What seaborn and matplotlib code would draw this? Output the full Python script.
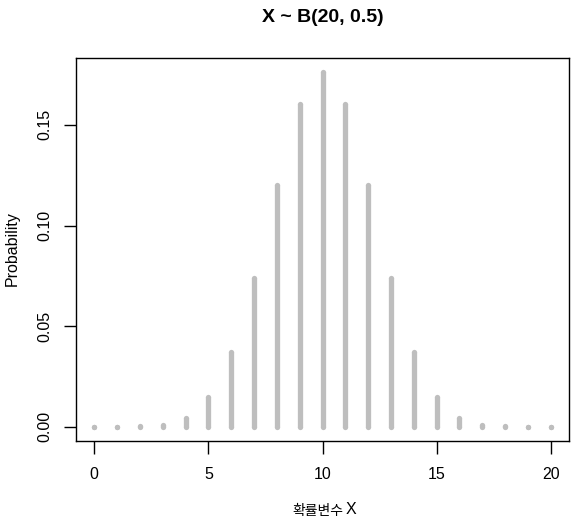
import matplotlib
matplotlib.use("Agg")
import matplotlib.pyplot as plt
import seaborn as sns
import pandas as pd

x_values = list(range(21))
probabilities = [0.000001, 0.000019, 0.000181, 0.001087, 0.004621, 0.014786,
                 0.036964, 0.073929, 0.120134, 0.160179, 0.176197, 0.160179,
                 0.120134, 0.073929, 0.036964, 0.014786, 0.004621, 0.001087,
                 0.000181, 0.000019, 0.000001]
x_ticks = [0, 5, 10, 15, 20]
y_ticks = [0.00, 0.05, 0.10, 0.15]
y_tick_labels = ["0.00", "0.05", "0.10", "0.15"]

df = pd.DataFrame({"x": x_values, "p": probabilities, "base": [0.0] * len(x_values)})

sns.set_theme(style="white")
plt.rcParams["font.family"] = ["Liberation Sans", "Noto Sans CJK KR", "DejaVu Sans"]
plt.rcParams["text.color"] = "black"

GRAY = "#bebebe"
LW = 3.8

fig = plt.figure(figsize=(5.76, 5.27), dpi=100)
ax = fig.add_axes([76/576, 1-441/527, (569-76)/576, (441-58)/527])

ax.vlines(df["x"], df["base"], df["p"], colors=GRAY, linewidth=LW, capstyle="butt")
# round line ends (as in R's type="h")
sns.scatterplot(data=df, x="x", y="p", ax=ax, color=GRAY, s=LW**2, linewidth=0,
                marker="o", legend=False)
sns.scatterplot(data=df, x="x", y="base", ax=ax, color=GRAY, s=LW**2, linewidth=0,
                marker="o", legend=False)

ax.set_xlim(-0.8, 20.8)
ax.set_ylim(-0.00705, 0.18325)
ax.set_xticks(x_ticks)
ax.set_xticklabels([str(t) for t in x_ticks])
ax.set_yticks(y_ticks)
ax.set_yticklabels(y_tick_labels, rotation=90, va="center")
ax.set_xlabel("")
ax.set_ylabel("")

for s in ax.spines.values():
    s.set_visible(True)
    s.set_color("black")
    s.set_linewidth(1.0)

ax.tick_params(axis="both", which="both", direction="out", length=9, width=1,
               color="black", labelsize=11.5, labelcolor="black",
               bottom=True, left=True)
ax.tick_params(axis="x", pad=10)
ax.tick_params(axis="y", pad=8)

fig.text(0.5 * (76 + 569) / 576, 1 - 18/527, "X ~ B(20, 0.5)", ha="center", va="center",
         fontsize=14, fontweight="bold", color="black")
fig.text(343/576, 1 - 511/527, "확률변수", ha="right", va="center", fontsize=10,
         family=["Noto Sans CJK KR", "DejaVu Sans"], color="black")
fig.text(346/576, 1 - 510/527, "X", ha="left", va="center", fontsize=11.5,
         family=["Liberation Sans"], color="black")
fig.text(12/576, 1 - 249/527, "Probability", ha="center", va="center", rotation=90,
         fontsize=11.5, color="black")

fig.savefig("out.png", dpi=100)
